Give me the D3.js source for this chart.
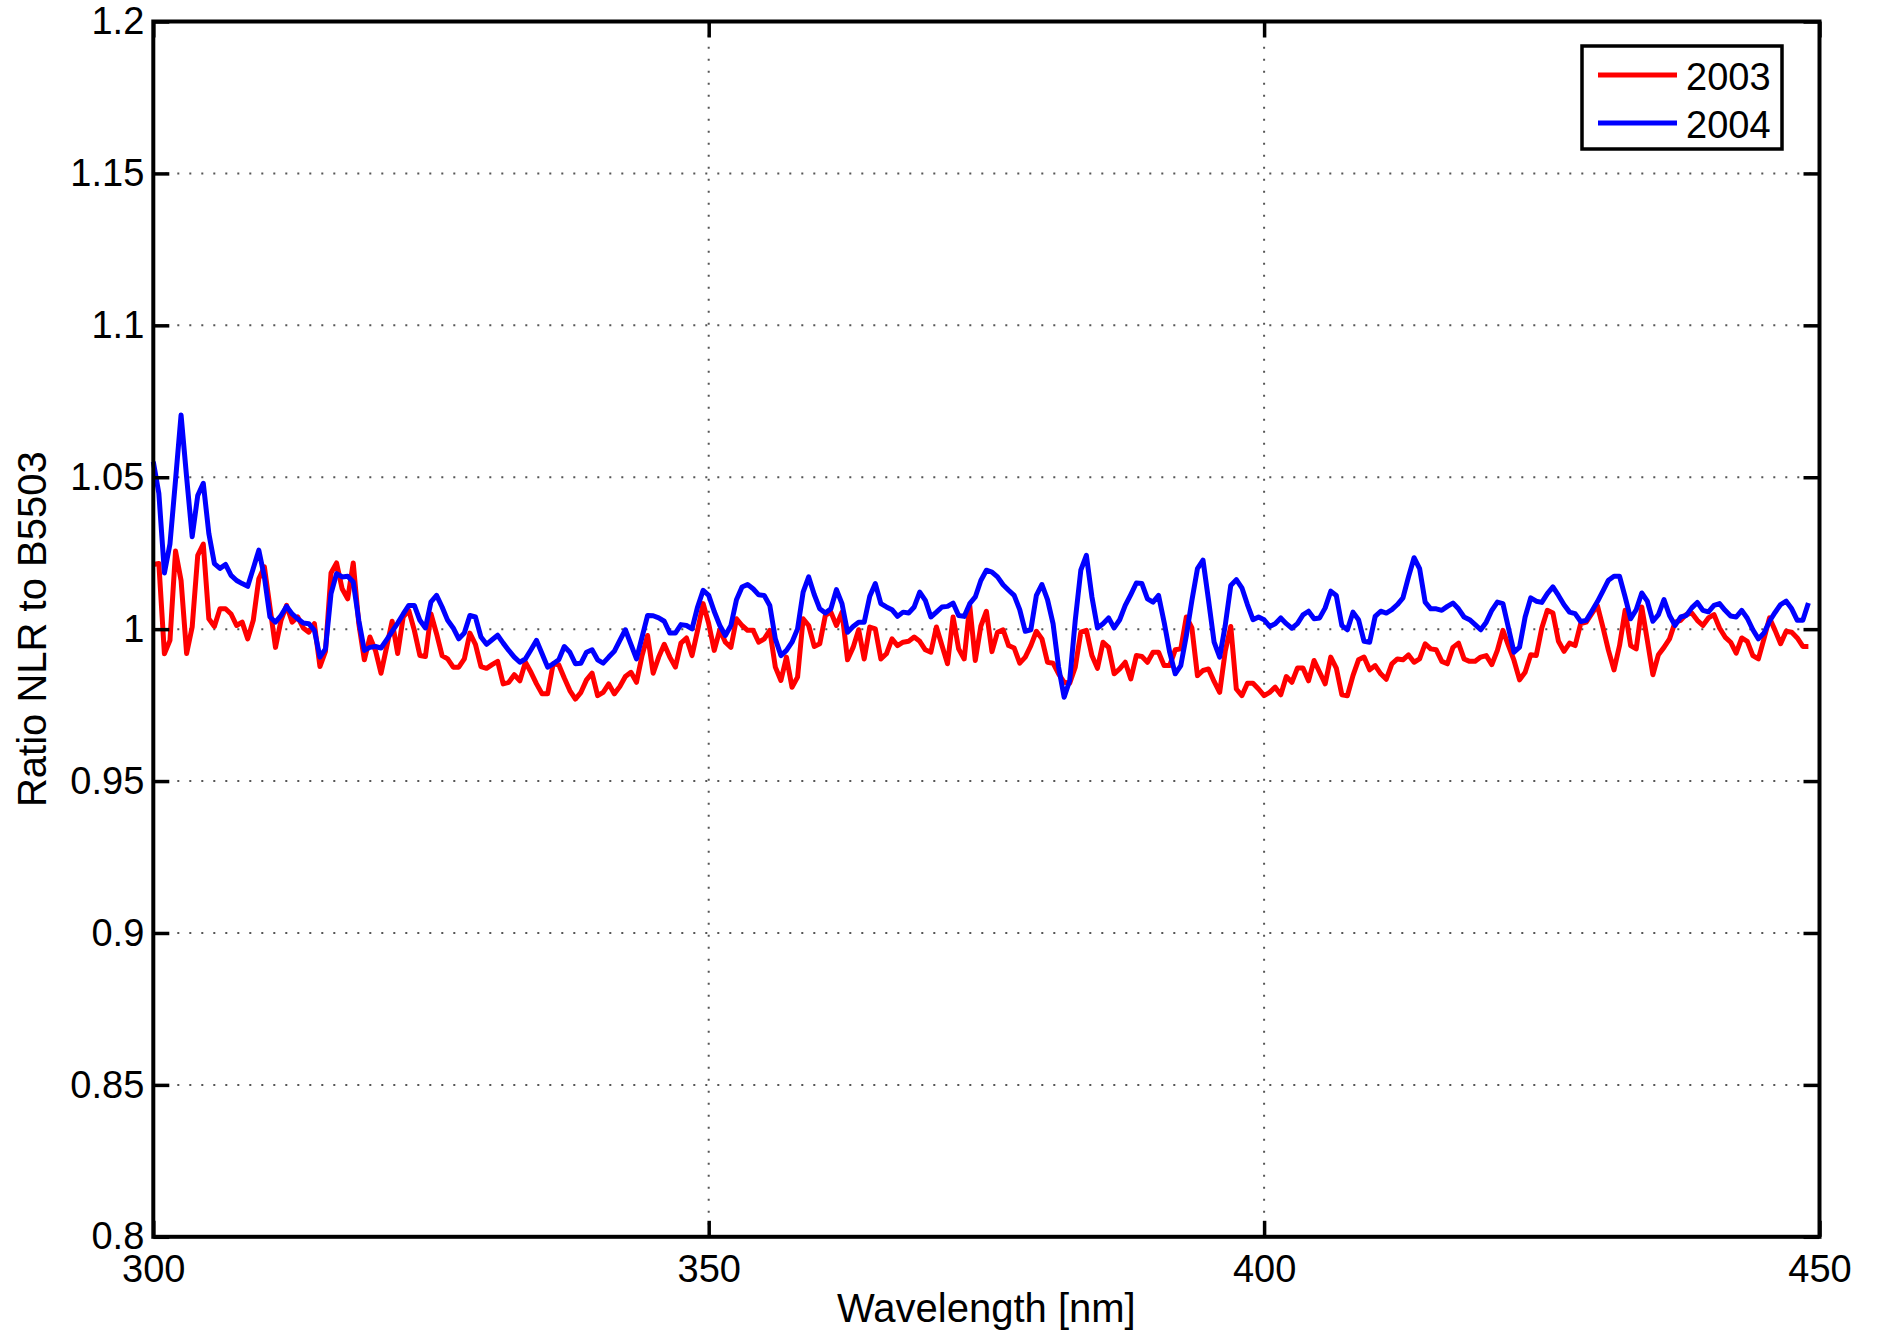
<!DOCTYPE html>
<html lang="en">
<head>
    <meta charset="UTF-8">
    <title>Ratio NLR to B5503</title>
    <script src="https://d3js.org/d3.v7.min.js"></script>
    <style>
        body { margin: 0; background: #fff; }
        text { font-family: "Liberation Sans", Arial, Helvetica, sans-serif; fill: #000; }
    </style>
</head>
<body>
    <svg width="1877" height="1335" id="chart"></svg>

    <script>
        // wavelength grid, 0.5 nm steps
        const wavelengths = d3.range(300, 449.001, 0.5);

        const ratio2003 = [
            1.0213, 1.0216, 0.9919, 0.9963, 1.0257, 1.016, 0.992, 1.0007, 1.0243, 1.028,
            1.0034, 1.0009, 1.0067, 1.0067, 1.005, 1.0012, 1.0023, 0.9968, 1.0029, 1.0166,
            1.0205, 1.0073, 0.994, 1.0029, 1.0078, 1.0023, 1.004, 1.0004, 0.999, 1.0018,
            0.9877, 0.9927, 1.0185, 1.0218, 1.0133, 1.01, 1.0218, 1.0018, 0.9899, 0.9974,
            0.993, 0.9855, 0.994, 1.0026, 0.992, 1.004, 1.0062, 0.9996, 0.9913, 0.991,
            1.005, 0.9985, 0.9913, 0.9902, 0.9875, 0.9875, 0.9902, 0.9987, 0.995, 0.9877,
            0.9871, 0.9883, 0.9894, 0.982, 0.9825, 0.985, 0.983, 0.9891, 0.9858, 0.982,
            0.9787, 0.9787, 0.9886, 0.9883, 0.9839, 0.9798, 0.977, 0.9792, 0.9833, 0.9855,
            0.9781, 0.9792, 0.982, 0.9787, 0.9811, 0.9844, 0.9858, 0.9825, 0.9913, 0.9979,
            0.9855, 0.9908, 0.995, 0.9908, 0.9875, 0.9954, 0.9971, 0.9913, 0.9996, 1.0084,
            1.0018, 0.993, 0.9998, 0.9957, 0.994, 1.0034, 1.0012, 0.9996, 0.9996, 0.9957,
            0.9968, 0.9996, 0.9875, 0.9831, 0.9908, 0.9809, 0.9842, 1.0034, 1.0012, 0.9943,
            0.9952, 1.0045, 1.0056, 1.0012, 1.0056, 0.9899, 0.994, 0.9998, 0.9902, 1.0007,
            1.0001, 0.9902, 0.9919, 0.9968, 0.9946, 0.9957, 0.996, 0.9974, 0.996, 0.9932,
            0.9924, 1.0007, 0.9946, 0.9886, 1.004, 0.9935, 0.9902, 1.0078, 0.9897, 1.001,
            1.0059, 0.9926, 0.999, 0.9998, 0.9946, 0.9938, 0.9888, 0.9908, 0.9946, 0.9993,
            0.9968, 0.9891, 0.9888, 0.9853, 0.9825, 0.9822, 0.9875, 0.999, 0.9996, 0.9913,
            0.9871, 0.9957, 0.994, 0.9853, 0.9869, 0.9891, 0.9836, 0.9913, 0.991, 0.9891,
            0.9924, 0.9924, 0.988, 0.988, 0.9932, 0.9935, 1.004, 1.0004, 0.9847, 0.9864,
            0.9869, 0.9828, 0.9792, 0.9927, 1.0009, 0.9803, 0.9781, 0.9822, 0.9822, 0.9803,
            0.9781, 0.9792, 0.9809, 0.9784, 0.9844, 0.9825, 0.9872, 0.9872, 0.983, 0.9897,
            0.9858, 0.982, 0.9908, 0.9872, 0.9784, 0.9781, 0.9847, 0.9899, 0.9908, 0.9866,
            0.988, 0.9853, 0.9835, 0.9886, 0.9902, 0.9899, 0.9915, 0.9891, 0.9902, 0.9952,
            0.9935, 0.9932, 0.9894, 0.9886, 0.994, 0.9954, 0.9902, 0.9894, 0.9894, 0.9908,
            0.9913, 0.9883, 0.993, 0.9996, 0.9946, 0.9897, 0.9833, 0.9858, 0.9916, 0.9913,
            1.0004, 1.0062, 1.0053, 0.996, 0.9927, 0.9954, 0.9946, 1.0018, 1.0023, 1.0051,
            1.0078, 1.0007, 0.993, 0.9866, 0.9946, 1.0062, 0.9946, 0.9935, 1.0073, 0.9963,
            0.985, 0.9916, 0.994, 0.9968, 1.0023, 1.0029, 1.0048, 1.0053, 1.0029, 1.0012,
            1.0037, 1.0048, 1.0004, 0.9974, 0.9957, 0.9921, 0.9971, 0.996, 0.9913, 0.9902,
            0.9968, 1.0037, 0.9996, 0.9952, 0.9993, 0.999, 0.9971, 0.9943, 0.9943
        ];

        const ratio2004 = [
            1.0551, 1.0447, 1.0185, 1.028, 1.049, 1.0705, 1.050, 1.0304, 1.044, 1.048,
            1.0315, 1.0216, 1.020, 1.0213, 1.0177, 1.016, 1.015, 1.0141, 1.020, 1.026,
            1.0172, 1.004, 1.0023, 1.0045, 1.0075, 1.005, 1.0034, 1.002, 1.0018, 0.9996,
            0.9908, 0.9935, 1.0117, 1.0183, 1.0172, 1.0174, 1.0155, 1.0029, 0.993, 0.994,
            0.9943, 0.9938, 0.9965, 0.9993, 1.002, 1.005, 1.0078, 1.0078, 1.0029, 1.0004,
            1.009, 1.0111, 1.0073, 1.0029, 1.0004, 0.9968, 0.9987, 1.0045, 1.004, 0.9974,
            0.995, 0.9965, 0.998, 0.9954, 0.993, 0.9908, 0.9891, 0.9902, 0.9932, 0.9963,
            0.9919, 0.9875, 0.9886, 0.9899, 0.9943, 0.9924, 0.9886, 0.9888, 0.9924, 0.9932,
            0.9899, 0.9888, 0.9908, 0.9927, 0.9963, 0.9998, 0.995, 0.9902, 0.9974, 1.0045,
            1.0044, 1.0037, 1.0026, 0.9987, 0.9987, 1.0015, 1.0012, 1.0001, 1.0073, 1.0128,
            1.0111, 1.0058, 1.0012, 0.9979, 1.0012, 1.0097, 1.0139, 1.0147, 1.0133, 1.0113,
            1.0111, 1.0078, 0.9968, 0.9913, 0.993, 0.9957, 1.0001, 1.0122, 1.0172, 1.0114,
            1.0067, 1.0053, 1.0067, 1.013, 1.0084, 0.999, 1.0009, 1.0023, 1.0023, 1.0108,
            1.015, 1.0084, 1.0073, 1.0064, 1.0042, 1.0056, 1.0053, 1.0073, 1.0122, 1.0095,
            1.004, 1.0056, 1.0073, 1.0075, 1.0086, 1.0045, 1.0042, 1.0084, 1.0106, 1.016,
            1.0194, 1.0188, 1.0172, 1.0146, 1.0128, 1.0111, 1.0064, 0.9993, 0.9998, 1.0111,
            1.0147, 1.0097, 1.0018, 0.9875, 0.9776, 0.9831, 1.0029, 1.0194, 1.0243, 1.0106,
            1.0004, 1.0018, 1.0037, 1.0004, 1.0031, 1.0078, 1.0114, 1.0152, 1.015, 1.01,
            1.0089, 1.0111, 1.0023, 0.9924, 0.9853, 0.988, 0.9979, 1.0095, 1.0199, 1.0227,
            1.0095, 0.9957, 0.9908, 1.0012, 1.0144, 1.0163, 1.0136, 1.0081, 1.0031, 1.004,
            1.0031, 1.0009, 1.0018, 1.0037, 1.0018, 1.0003, 1.0018, 1.0047, 1.0059, 1.0034,
            1.0037, 1.007, 1.0125, 1.0111, 1.0012, 0.9998, 1.0056, 1.0031, 0.996, 0.9957,
            1.0042, 1.0059, 1.0053, 1.0064, 1.0081, 1.0103, 1.0172, 1.0235, 1.0199, 1.0089,
            1.0067, 1.0067, 1.0062, 1.0075, 1.0086, 1.0067, 1.004, 1.0031, 1.0015, 0.9998,
            1.0023, 1.0062, 1.0089, 1.0084, 1.0004, 0.9924, 0.9941, 1.004, 1.0103, 1.0092,
            1.0088, 1.0117, 1.0139, 1.0111, 1.008, 1.0056, 1.0051, 1.0025, 1.0029, 1.0059,
            1.009, 1.0125, 1.0161, 1.0174, 1.0174, 1.0106, 1.0034, 1.0064, 1.0119, 1.0092,
            1.0026, 1.0048, 1.0097, 1.0045, 1.0012, 1.004, 1.0045, 1.007, 1.0088, 1.0062,
            1.0057, 1.0078, 1.0084, 1.0062, 1.0043, 1.004, 1.0062, 1.0036, 0.9998, 0.9968,
            0.9987, 1.0026, 1.0055, 1.0081, 1.0092, 1.0067, 1.0029, 1.0029, 1.0086
        ];

        const seriesNames = ["2003", "2004"];
        const seriesColors = ["#ff0000", "#0000ff"];

        const xTicks = [300, 350, 400, 450];
        const yTicks = [0.8, 0.85, 0.9, 0.95, 1, 1.05, 1.1, 1.15, 1.2];
        const yTickLabels = ["0.8", "0.85", "0.9", "0.95", "1", "1.05", "1.1", "1.15", "1.2"];

        // plot box in pixels
        const plotLeft = 153.3, plotRight = 1819.5, plotTop = 21.5, plotBottom = 1236.8;
        const tickLen = 16;

        const svg = d3.select("#chart");

        const x = d3.scaleLinear().domain([300, 450]).range([plotLeft, plotRight]);
        const y = d3.scaleLinear().domain([0.8, 1.2]).range([plotBottom, plotTop]);

        // dotted grid
        const grid = svg.append("g")
            .attr("stroke", "#555")
            .attr("stroke-width", 2)
            .attr("stroke-dasharray", "2,10");
        grid.selectAll("line.gy")
            .data(yTicks.slice(1, -1))
            .enter().append("line")
            .attr("x1", plotLeft).attr("x2", plotRight)
            .attr("y1", d => y(d)).attr("y2", d => y(d));
        grid.selectAll("line.gx")
            .data(xTicks.slice(1, -1))
            .enter().append("line")
            .attr("y1", plotBottom).attr("y2", plotTop)
            .attr("x1", d => x(d)).attr("x2", d => x(d));

        // data lines
        const line = d3.line()
            .x((d, i) => x(wavelengths[i]))
            .y(d => y(d));

        [ratio2003, ratio2004].forEach((vals, i) => {
            svg.append("path")
                .datum(vals)
                .attr("d", line)
                .attr("fill", "none")
                .attr("stroke", seriesColors[i])
                .attr("stroke-width", 5)
                .attr("stroke-linejoin", "round");
        });

        // axes, ticks pointing inward on all four sides
        const yFmt = d => yTickLabels[yTicks.indexOf(d)];

        const axL = svg.append("g").attr("transform", `translate(${plotLeft},0)`)
            .call(d3.axisLeft(y).tickValues(yTicks).tickFormat(yFmt).tickSize(-tickLen).tickPadding(9));
        const axR = svg.append("g").attr("transform", `translate(${plotRight},0)`)
            .call(d3.axisRight(y).tickValues(yTicks).tickFormat("").tickSize(-tickLen));
        const axB = svg.append("g").attr("transform", `translate(0,${plotBottom})`)
            .call(d3.axisBottom(x).tickValues(xTicks).tickFormat(d3.format("d")).tickSize(-tickLen).tickPadding(18));
        const axT = svg.append("g").attr("transform", `translate(0,${plotTop})`)
            .call(d3.axisTop(x).tickValues(xTicks).tickFormat("").tickSize(-tickLen));

        [axL, axR, axB, axT].forEach(g => {
            g.select(".domain").remove();
            g.selectAll(".tick line").attr("stroke", "#000").attr("stroke-width", 3.5);
            g.selectAll("text").attr("font-size", 38).attr("font-family", null);
        });

        // box
        svg.append("rect")
            .attr("x", plotLeft).attr("y", plotTop)
            .attr("width", plotRight - plotLeft).attr("height", plotBottom - plotTop)
            .attr("fill", "none")
            .attr("stroke", "#000")
            .attr("stroke-width", 4);

        // axis labels
        svg.append("text")
            .attr("x", (plotLeft + plotRight) / 2)
            .attr("y", 1322)
            .attr("text-anchor", "middle")
            .attr("font-size", 40)
            .text("Wavelength [nm]");

        svg.append("text")
            .attr("transform", `translate(46,${(plotTop + plotBottom) / 2}) rotate(-90)`)
            .attr("text-anchor", "middle")
            .attr("font-size", 40)
            .text("Ratio NLR to B5503");

        // legend
        const legend = svg.append("g");
        legend.append("rect")
            .attr("x", 1582).attr("y", 46)
            .attr("width", 200).attr("height", 103)
            .attr("fill", "#fff")
            .attr("stroke", "#000")
            .attr("stroke-width", 3.5);

        seriesNames.forEach((name, i) => {
            const ly = 75 + i * 48;
            legend.append("line")
                .attr("x1", 1598).attr("x2", 1677)
                .attr("y1", ly).attr("y2", ly)
                .attr("stroke", seriesColors[i])
                .attr("stroke-width", 5);
            legend.append("text")
                .attr("x", 1686)
                .attr("y", ly + 15)
                .attr("font-size", 38)
                .text(name);
        });
    </script>
</body>
</html>
